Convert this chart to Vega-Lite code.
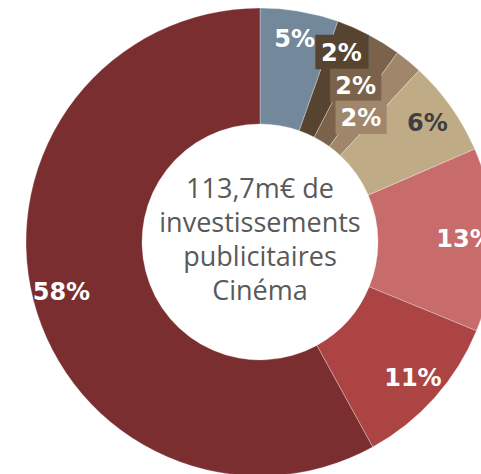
{
  "$schema": "https://vega.github.io/schema/vega-lite/v6.json",
  "width": 442,
  "height": 464,
  "autosize": {"type": "none"},
  "padding": {"left": 39, "top": 10, "right": 0, "bottom": 0},
  "background": "white",
  "config": {"view": {"stroke": null}},
  "data": {
    "values": [
      {"seg": "s1", "order": 1, "value": 5.4, "label": "5%"},
      {"seg": "s2", "order": 2, "value": 2.2, "label": "2%"},
      {"seg": "s3", "order": 3, "value": 2.4, "label": "2%"},
      {"seg": "s4", "order": 4, "value": 1.9, "label": "2%"},
      {"seg": "s5", "order": 5, "value": 6.6, "label": "6%"},
      {"seg": "s6", "order": 6, "value": 12.7, "label": "13%"},
      {"seg": "s7", "order": 7, "value": 10.8, "label": "11%"},
      {"seg": "s8", "order": 8, "value": 58.0, "label": "58%"}
    ]
  },
  "layer": [
    {
      "mark": {"type": "arc", "innerRadius": 118, "outerRadius": 234, "stroke": "white", "strokeWidth": 0.5, "strokeOpacity": 0.6},
      "encoding": {
        "theta": {"field": "value", "type": "quantitative", "stack": true},
        "order": {"field": "order", "type": "quantitative"},
        "color": {
          "field": "seg", "type": "nominal", "legend": null,
          "scale": {
            "domain": ["s1", "s2", "s3", "s4", "s5", "s6", "s7", "s8"],
            "range": ["#74889c", "#574430", "#7b634b", "#a0866a", "#bfac87", "#c76b6b", "#ac4444", "#7b2e2f"]
          }
        }
      }
    },
    {
      "mark": {"type": "text", "radius": 206, "font": "DejaVu Sans Mono", "fontSize": 29, "align": "center", "baseline": "middle", "text": "███"},
      "encoding": {
        "theta": {"field": "value", "type": "quantitative", "stack": true},
        "order": {"field": "order", "type": "quantitative"},
        "detail": {"field": "seg", "type": "nominal"},
        "color": {"value": "#574430"},
        "opacity": {"condition": {"test": "datum.order === 2", "value": 1}, "value": 0}
      }
    },
    {
      "mark": {"type": "text", "radius": 182, "font": "DejaVu Sans Mono", "fontSize": 28, "align": "center", "baseline": "middle", "text": "███"},
      "encoding": {
        "theta": {"field": "value", "type": "quantitative", "stack": true},
        "order": {"field": "order", "type": "quantitative"},
        "detail": {"field": "seg", "type": "nominal"},
        "color": {"value": "#7b634b"},
        "opacity": {"condition": {"test": "datum.order === 3", "value": 1}, "value": 0}
      }
    },
    {
      "mark": {"type": "text", "radius": 159, "font": "DejaVu Sans Mono", "fontSize": 28, "align": "center", "baseline": "middle", "text": "███"},
      "encoding": {
        "theta": {"field": "value", "type": "quantitative", "stack": true},
        "order": {"field": "order", "type": "quantitative"},
        "detail": {"field": "seg", "type": "nominal"},
        "color": {"value": "#a0866a"},
        "opacity": {"condition": {"test": "datum.order === 4", "value": 1}, "value": 0}
      }
    },
    {
      "mark": {"type": "text", "radius": 205, "font": "DejaVu Sans", "fontWeight": "bold", "fontSize": 24, "align": "center", "baseline": "middle"},
      "encoding": {
        "theta": {"field": "value", "type": "quantitative", "stack": true},
        "order": {"field": "order", "type": "quantitative"},
        "detail": {"field": "seg", "type": "nominal"},
        "text": {"field": "label", "type": "nominal"},
        "color": {"condition": {"test": "datum.order === 5", "value": "#3f3f3f"}, "value": "white"},
        "opacity": {"condition": {"test": "datum.order === 3 || datum.order === 4", "value": 0}, "value": 1}
      }
    },
    {
      "mark": {"type": "text", "radius": 182, "font": "DejaVu Sans", "fontWeight": "bold", "fontSize": 24, "align": "center", "baseline": "middle", "color": "white"},
      "encoding": {
        "theta": {"field": "value", "type": "quantitative", "stack": true},
        "order": {"field": "order", "type": "quantitative"},
        "detail": {"field": "seg", "type": "nominal"},
        "text": {"field": "label", "type": "nominal"},
        "opacity": {"condition": {"test": "datum.order === 3", "value": 1}, "value": 0}
      }
    },
    {
      "mark": {"type": "text", "radius": 159, "font": "DejaVu Sans", "fontWeight": "bold", "fontSize": 24, "align": "center", "baseline": "middle", "color": "white"},
      "encoding": {
        "theta": {"field": "value", "type": "quantitative", "stack": true},
        "order": {"field": "order", "type": "quantitative"},
        "detail": {"field": "seg", "type": "nominal"},
        "text": {"field": "label", "type": "nominal"},
        "opacity": {"condition": {"test": "datum.order === 4", "value": 1}, "value": 0}
      }
    },
    {
      "data": {"values": [{"title": ["113,7m€ de", "investissements", "publicitaires", "Cinéma"]}]},
      "mark": {"type": "text", "font": "Open Sans", "fontSize": 27, "lineHeight": 34, "align": "center", "baseline": "middle", "dy": -52, "color": "#595959"},
      "encoding": {
        "text": {"field": "title"}
      }
    }
  ]
}
